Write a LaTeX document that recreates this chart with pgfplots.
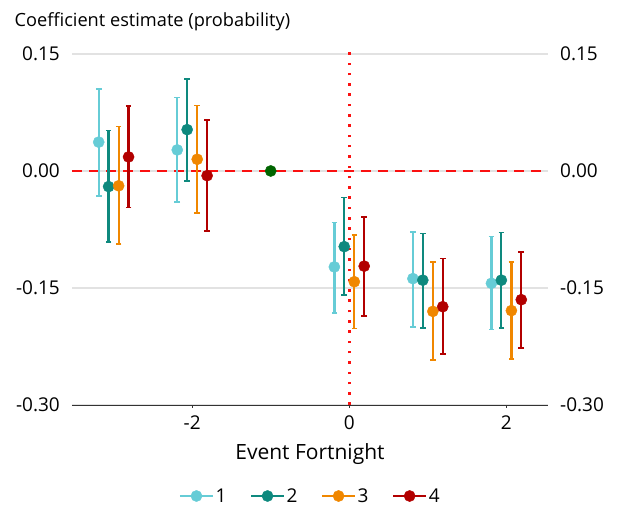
\documentclass[border=0pt]{standalone}
\usepackage{pgfplots}
\pgfplotsset{compat=1.18}
\usepackage{pgfplotstable}
\usepackage{fontspec}
\setmainfont{Open Sans}

\definecolor{cA}{HTML}{66CCD6}
\definecolor{cB}{HTML}{0E897E}
\definecolor{cC}{HTML}{F08700}
\definecolor{cD}{HTML}{B20000}
\definecolor{cRef}{HTML}{006400}
\definecolor{gridgray}{HTML}{E2E2E2}
\definecolor{zeroRed}{HTML}{FA1010}

% event time (shifted per group), estimate, lower and upper bound
\pgfplotstableread{
x      y      lo      hi
-3.19  0.037  -0.032  0.105
-2.19  0.027  -0.040  0.094
-0.19  -0.123 -0.182  -0.066
0.81   -0.138 -0.200  -0.078
1.81   -0.144 -0.203  -0.084
}\groupone
\pgfplotstableread{
x      y      lo      hi
-3.064 -0.020 -0.091  0.052
-2.064 0.053  -0.013  0.118
-0.064 -0.097 -0.159  -0.034
0.936  -0.140 -0.201  -0.080
1.936  -0.140 -0.201  -0.079
}\grouptwo
\pgfplotstableread{
x      y      lo      hi
-2.936 -0.019 -0.094  0.057
-1.936 0.015  -0.054  0.084
0.064  -0.142 -0.202  -0.082
1.064  -0.180 -0.242  -0.117
2.064  -0.179 -0.241  -0.117
}\groupthree
\pgfplotstableread{
x      y      lo      hi
-2.81  0.018  -0.047  0.083
-1.81  -0.006 -0.077  0.065
0.19   -0.122 -0.186  -0.059
1.19   -0.174 -0.235  -0.112
2.19   -0.165 -0.227  -0.104
}\groupfour

\pgfplotsset{
  common/.style={
    at={(72pt,105pt)}, anchor=south west,
    scale only axis, width=476pt, height=360pt,
    xmin=-3.53, xmax=2.53, ymin=-0.30, ymax=0.1615,
    ytick={-0.30,-0.15,0,0.15},
    yticklabels={-0.30,-0.15,0.00,0.15},
    ytick style={draw=none},
    y axis line style={draw=none},
    every tick label/.append style={font=\fontsize{19}{22}\selectfont},
  },
  ci/.style={
    only marks, mark=*, mark size=5.6pt, color=#1,
    error bars/.cd, y dir=both, y explicit,
    error mark=-,
    error bar style={line width=2.3pt, color=#1},
    error mark options={rotate=90, line width=1.6pt, mark size=2.8pt, color=#1},
  },
  legline/.style={color=#1},
}

\begin{document}
\begin{tikzpicture}
\useasboundingbox (0,0) rectangle (619pt,510pt);
\begin{axis}[
  common,
  axis x line*=bottom, axis y line*=left,
  x axis line style={line width=0.8pt, color=black!80},
  xtick={-2,0,2}, xticklabels={-2,0,2},
  xtick align=outside, major tick length=3pt,
  xtick style={line width=0.8pt, color=black!80},
  xticklabel style={anchor=north, inner sep=0pt, yshift=-8pt},
  yticklabel style={anchor=east, inner sep=0pt, xshift=-12pt},
  ymajorgrids, grid style={color=gridgray, line width=1.3pt},
  xlabel={Event Fortnight},
  xlabel style={at={(axis description cs:0.5,-0.152)}, anchor=base, font=\fontsize{21}{24}\selectfont},
  ylabel={Coefficient estimate (probability)},
  ylabel style={at={(axis description cs:-0.128,1.051)}, anchor=base west, rotate=-90, font=\fontsize{18.2}{21}\selectfont},
  legend columns=4,
  legend style={draw=none, fill=none, at={(axis description cs:0.5,-0.2528)}, anchor=center,
    font=\fontsize{19}{22}\selectfont,
    /tikz/every even column/.append style={column sep=22pt},
    nodes={inner sep=1.5pt}},
  legend image code/.code={
    \draw[#1, line width=2.2pt] (0pt,0pt) -- (33pt,0pt);
    \fill[#1] (16.5pt,0pt) circle (5.6pt);
  },
]
% reference lines
\addplot[forget plot, zeroRed, line width=2.4pt, dash pattern=on 10pt off 7pt]
  coordinates {(-3.53,0) (2.53,0)};
\addplot[forget plot, zeroRed, line width=2.5pt, dash pattern=on 2.5pt off 7.8pt]
  coordinates {(0,-0.30) (0,0.1615)};

% estimates with confidence intervals
\addplot[forget plot, ci=cA] table[x=x, y=y,
  y error plus expr=\thisrow{hi}-\thisrow{y},
  y error minus expr=\thisrow{y}-\thisrow{lo}] {\groupone};
\addplot[forget plot, ci=cB] table[x=x, y=y,
  y error plus expr=\thisrow{hi}-\thisrow{y},
  y error minus expr=\thisrow{y}-\thisrow{lo}] {\grouptwo};
\addplot[forget plot, ci=cC] table[x=x, y=y,
  y error plus expr=\thisrow{hi}-\thisrow{y},
  y error minus expr=\thisrow{y}-\thisrow{lo}] {\groupthree};
\addplot[forget plot, ci=cD] table[x=x, y=y,
  y error plus expr=\thisrow{hi}-\thisrow{y},
  y error minus expr=\thisrow{y}-\thisrow{lo}] {\groupfour};

% omitted reference period
\addplot[forget plot, only marks, mark=*, mark size=5.6pt, color=cRef]
  coordinates {(-1,0)};

\addlegendimage{legline=cA}\addlegendentry{1}
\addlegendimage{legline=cB}\addlegendentry{2}
\addlegendimage{legline=cC}\addlegendentry{3}
\addlegendimage{legline=cD}\addlegendentry{4}
\end{axis}

% tick labels repeated on the right-hand side
\begin{axis}[
  common,
  hide x axis,
  axis y line*=right,
  yticklabel style={anchor=west, inner sep=0pt, xshift=12pt},
]
\end{axis}
\end{tikzpicture}
\end{document}
